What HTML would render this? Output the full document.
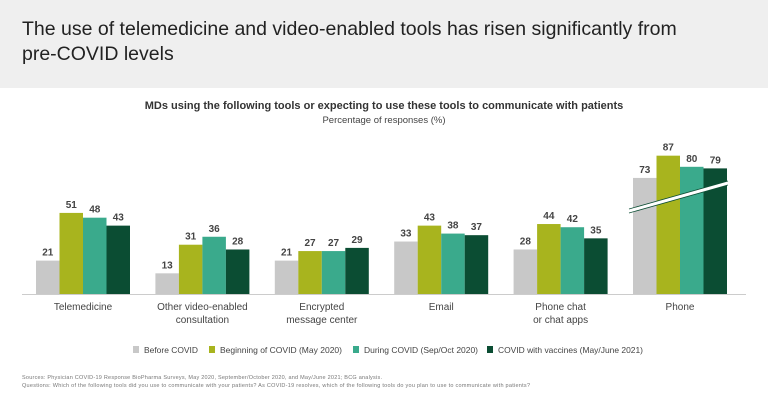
<!DOCTYPE html>
<html><head><meta charset="utf-8"><style>
body{margin:0;width:768px;height:402px;background:#fff;font-family:"Liberation Sans",sans-serif;overflow:hidden;position:relative}
#hdr{position:absolute;left:0;top:0;width:768px;height:88px;background:#efefef}
#hdr div{position:absolute;left:22px;top:17px;font-size:19.5px;line-height:25px;color:#222;width:720px}
</style></head><body>
<div id="hdr"><div>The use of telemedicine and video-enabled tools has risen significantly from<br>pre-COVID levels</div></div>
<svg id="chart" width="768" height="402" style="position:absolute;left:0;top:0">
<text x="384" y="109" text-anchor="middle" font-size="11" font-weight="bold" fill="#333">MDs using the following tools or expecting to use these tools to communicate with patients</text>
<text x="384" y="123" text-anchor="middle" font-size="9.5" fill="#444">Percentage of responses (%)</text>
<line x1="22" y1="294.5" x2="746" y2="294.5" stroke="#ccc"/>
<g id="bars"></g>
<line x1="629" y1="211" x2="728" y2="183" stroke="#fff" stroke-width="4"/>
<line x1="629" y1="209" x2="728" y2="181" stroke="#0b4d33" stroke-width="0.8"/>
<line x1="629" y1="213" x2="728" y2="185" stroke="#0b4d33" stroke-width="0.8"/>
<g id="legend" font-size="8.5" fill="#444"></g>
<text x="22" y="379" font-size="5.5" fill="#777" textLength="360">Sources: Physician COVID-19 Response BioPharma Surveys, May 2020, September/October 2020, and May/June 2021; BCG analysis.</text>
<text x="22" y="387" font-size="5.5" fill="#777" textLength="508">Questions: Which of the following tools did you use to communicate with your patients? As COVID-19 resolves, which of the following tools do you plan to use to communicate with patients?</text>
</svg>
<script>
const categories=[["Telemedicine"],["Other video-enabled","consultation"],["Encrypted","message center"],["Email"],["Phone chat","or chat apps"],["Phone"]];
const seriesNames=["Before COVID","Beginning of COVID (May 2020)","During COVID (Sep/Oct 2020)","COVID with vaccines (May/June 2021)"];
const before=[21,13,21,33,28,73];
const beginning=[51,31,27,43,44,87];
const during=[48,36,27,38,42,80];
const vaccines=[43,28,29,37,35,79];
const series=[before,beginning,during,vaccines];
const colors=["#c8c8c8","#a8b41e","#3aaa8c","#0b4d33"];
const NS="http://www.w3.org/2000/svg";
const base=294, k=1.59, bw=23.5;
function y(v){return base-v*k;}
function gx(i){return 83+i*119.4;}
const g=document.getElementById('bars');
function mk(t,a,txt){const e=document.createElementNS(NS,t);for(const n in a)e.setAttribute(n,a[n]);if(txt!=null)e.textContent=txt;return e;}
categories.forEach((c,i)=>{
 series.forEach((s,j)=>{
  const x=gx(i)-2*bw+j*bw;
  const r=mk('rect',{x:x,y:y(s[i]),width:bw,height:base-y(s[i]),fill:colors[j]});
  
  
  g.appendChild(r);
  const t=mk('text',{x:x+bw/2,y:y(s[i])-5,'text-anchor':'middle','font-size':'10','font-weight':'bold',fill:'#444'},s[i]);
  
  
  g.appendChild(t);
 });
 c.forEach((ln,l)=>{
  const t=mk('text',{x:gx(i),y:310+l*13,'text-anchor':'middle','font-size':'10',fill:'#444'},ln);
  
  
  g.appendChild(t);
 });
});
const lg=document.getElementById('legend');
const lx=[133,209,353,487];
const lw=[54,122,114,145];
seriesNames.forEach((n,j)=>{
 const r=mk('rect',{x:lx[j],y:346,width:6,height:7,fill:colors[j]});
 
 
 lg.appendChild(r);
 const t=mk('text',{x:lx[j]+11,y:353,textLength:lw[j],lengthAdjust:'spacingAndGlyphs'},n);
 
 
 lg.appendChild(t);
});
</script>
</body></html>
